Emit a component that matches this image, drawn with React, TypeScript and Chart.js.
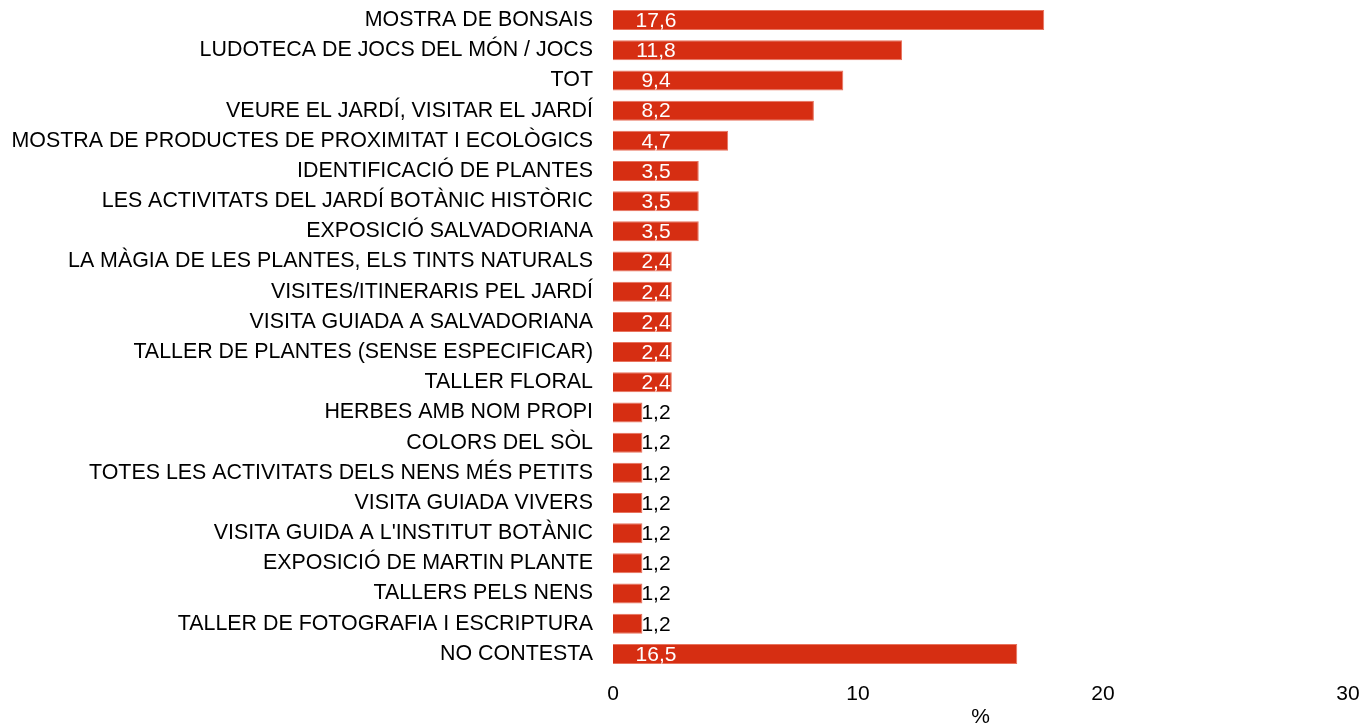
import React, { useEffect, useRef } from "react";
import { Chart, registerables } from "chart.js";

Chart.register(...registerables);

const categories: string[] = [
  "MOSTRA DE BONSAIS",
  "LUDOTECA DE JOCS DEL MÓN / JOCS",
  "TOT",
  "VEURE EL JARDÍ, VISITAR EL JARDÍ",
  "MOSTRA DE PRODUCTES DE PROXIMITAT I ECOLÒGICS",
  "IDENTIFICACIÓ DE PLANTES",
  "LES ACTIVITATS DEL JARDÍ BOTÀNIC HISTÒRIC",
  "EXPOSICIÓ SALVADORIANA",
  "LA MÀGIA DE LES PLANTES, ELS TINTS NATURALS",
  "VISITES/ITINERARIS PEL JARDÍ",
  "VISITA GUIADA A SALVADORIANA",
  "TALLER DE PLANTES (SENSE ESPECIFICAR)",
  "TALLER FLORAL",
  "HERBES AMB NOM PROPI",
  "COLORS DEL SÒL",
  "TOTES LES ACTIVITATS DELS NENS MÉS PETITS",
  "VISITA GUIADA VIVERS",
  "VISITA GUIDA A L'INSTITUT BOTÀNIC",
  "EXPOSICIÓ DE MARTIN PLANTE",
  "TALLERS PELS NENS",
  "TALLER DE FOTOGRAFIA I ESCRIPTURA",
  "NO CONTESTA",
];

const percentages: number[] = [
  17.6, 11.8, 9.4, 8.2, 4.7, 3.5, 3.5, 3.5, 2.4, 2.4, 2.4, 2.4, 2.4, 1.2, 1.2,
  1.2, 1.2, 1.2, 1.2, 1.2, 1.2, 16.5,
];

const xTicks: number[] = [0, 10, 20, 30];
const xTitle = "%";

const FONT = "'Liberation Sans', Arial, sans-serif";
const FONT_SIZE = 21.4;

const labelPlugin = {
  id: "valueLabels",
  afterDatasetsDraw(chart: any) {
    const ctx = chart.ctx;
    const meta = chart.getDatasetMeta(0);
    const xScale = chart.scales.x;
    const x0 = xScale.getPixelForValue(0);
    ctx.save();
    ctx.font = `21px ${FONT}`;
    ctx.textAlign = "center";
    ctx.textBaseline = "middle";
    meta.data.forEach((bar: any, i: number) => {
      const v = percentages[i];
      const text = v.toFixed(1).replace(".", ",");
      ctx.fillStyle = v > 2 ? "#ffffff" : "#000000";
      ctx.fillText(text, x0 + 43, bar.y + 1);
    });
    ctx.restore();
  },
};

export default function App() {
  const ref = useRef<HTMLCanvasElement | null>(null);
  useEffect(() => {
    if (!ref.current) return;
    const chart = new Chart(ref.current, {
      type: "bar",
      data: {
        labels: categories,
        datasets: [
          {
            data: percentages,
            backgroundColor: "#d62e12",
            borderColor: "#e8735e",
            borderWidth: 1,
            barPercentage: 0.663,
            categoryPercentage: 1,
          },
        ],
      },
      options: {
        indexAxis: "y",
        animation: false,
        responsive: false,
        maintainAspectRatio: false,
        layout: { padding: { top: 5, right: 14, bottom: 0, left: 0 } },
        plugins: {
          legend: { display: false },
          tooltip: { enabled: false },
        },
        scales: {
          x: {
            min: 0,
            max: 30,
            afterBuildTicks: (scale: any) => {
              scale.ticks = xTicks.map((v) => ({ value: v }));
            },
            afterFit: (scale: any) => {
              scale.height = 57;
              scale.paddingLeft = 0;
              scale.paddingRight = 0;
            },
            grid: { display: false, drawTicks: false },
            border: { display: false },
            ticks: {
              padding: 13,
              color: "#000",
              font: { family: FONT, size: 21 },
            },
            title: {
              display: true,
              text: xTitle,
              color: "#000",
              font: { family: FONT, size: 21, lineHeight: 0.8 },
              padding: { top: 0, bottom: 0 },
            },
          },
          y: {
            afterFit: (scale: any) => {
              scale.width = 613;
              scale.paddingTop = 0;
              scale.paddingBottom = 0;
            },
            grid: { display: false, drawTicks: false },
            border: { display: false },
            ticks: {
              padding: 20,
              color: "#000",
              autoSkip: false,
              font: { family: FONT, size: FONT_SIZE },
            },
          },
        },
      },
      plugins: [labelPlugin],
    });
    return () => chart.destroy();
  }, []);
  return (
    <div style={{ position: "fixed", left: 0, top: 0, width: 1362, height: 726, background: "#fff" }}>
      <canvas ref={ref} width={1362} height={726} style={{ display: "block" }} />
    </div>
  );
}
